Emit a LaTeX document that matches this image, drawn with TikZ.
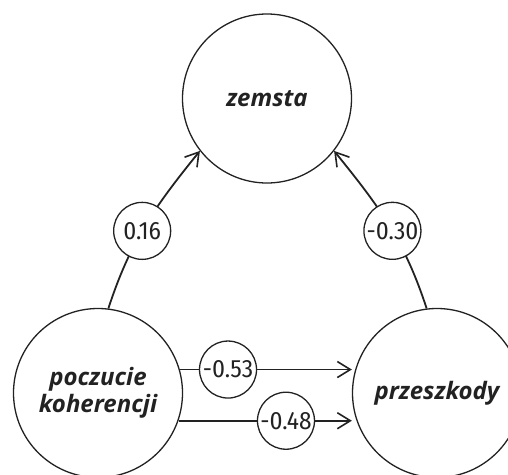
\documentclass[tikz,border=0pt]{standalone}
\usepackage{fontspec}
\usetikzlibrary{arrows.meta}
\IfFontExistsTF{Open Sans SemiBold Italic}{\newfontfamily\labfont{Open Sans SemiBold Italic}}{\newfontfamily\labfontbase{Open Sans}\newcommand\labfont{\labfontbase\bfseries\itshape}}
\IfFontExistsTF{Fira Sans Condensed}{\newfontfamily\numfont{Fira Sans Condensed}}{%
  \IfFontExistsTF{PT Sans Narrow}{\newfontfamily\numfont{PT Sans Narrow}}{\newfontfamily\numfont{Fira Sans Light}}}
\definecolor{ink}{HTML}{222222}
\begin{document}
\begin{tikzpicture}[x=1pt,y=-1pt,
  bignode/.style={circle,draw=ink,line width=1.3pt,inner sep=0pt,minimum size=169pt,
    text=ink,font=\labfont\fontsize{24}{27}\selectfont,align=center},
  lbl/.style={circle,draw=ink,fill=white,line width=1.3pt,inner sep=0pt,minimum size=57pt,
    text=ink,font=\numfont\fontsize{25}{28}\selectfont},
  edge/.style={draw=ink,line width=1.8pt,-{Straight Barb[length=13pt,width=16pt,line width=1.6pt]}}]
\useasboundingbox (0,0) rectangle (508,474);
\clip (0,0) rectangle (508,474);
\node[bignode] (z) at (267,98.5) {zemsta};
\node[bignode] (pk) at (98,393) {poczucie\\koherencji};
\node[bignode] (pz) at (437,393) {przeszkody};
\draw[edge] (pk.83) to[out=72,in=231] node[lbl,pos=0.46] (l1) {0.16} (z.218);
\draw[edge] (pz.97) to[out=108,in=-51] node[lbl,pos=0.46] (l2) {-0.30} (z.322);
\coordinate (a1) at (pk.16.5);
\coordinate (a2) at (pk.-19.3);
\draw[edge] (a1) -- node[lbl,pos=0.28] (l3) {-0.53} (a1 -| pz.west);
\draw[edge] (a2) -- node[lbl,pos=0.62] (l4) {-0.48} (a2 -| pz.west);
\end{tikzpicture}
\end{document}
